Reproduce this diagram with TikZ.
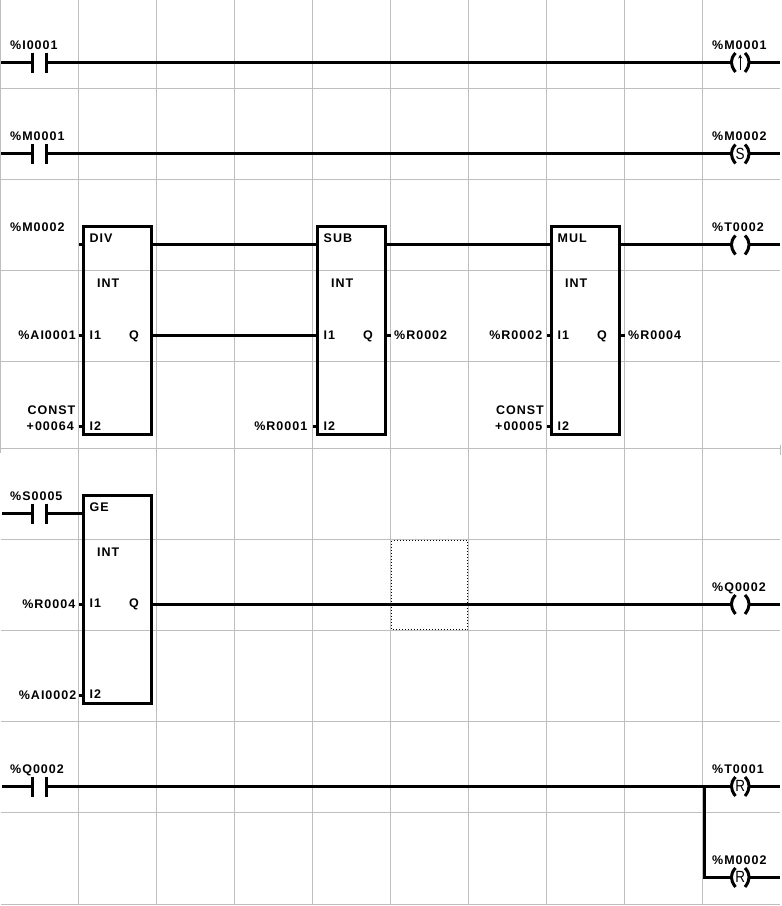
\documentclass[tikz,border=0pt]{standalone}
\usepackage{fontspec}
\usetikzlibrary{arrows.meta}
\setmainfont[LetterSpace=8]{Liberation Sans}
\newfontfamily\coilfont{Liberation Sans}
\definecolor{gridc}{HTML}{BEBEBE}
\tikzset{
  x=1pt,y=-1pt,
  gridline/.style={draw=gridc,line width=1pt},
  wire/.style={draw=black,line width=3pt},
  lbl/.style={inner sep=0pt,text height=9pt,text depth=0pt,font=\fontsize{12.5}{14}\selectfont\bfseries},
  inlbl/.style={lbl},
  fblock/.style={draw=black,line width=3pt,rectangle,inner sep=0pt,outer sep=0pt,minimum width=68.5pt,minimum height=208pt},
  sel/.style={draw=black,line width=1pt,dotted},
  uparrowline/.style={draw=black,line width=0.9pt,-{Stealth[length=4pt,width=4pt]}},
}
% contact: #1 name, #2 x left bar, #3 y
\newcommand{\contact}[3]{%
  \coordinate (#1l) at (#2,#3);
  \coordinate (#1r) at (#2+14,#3);
  \draw[wire] (#2,#3-9.5) -- (#2,#3+10.5);
  \draw[wire] (#2+14,#3-9.5) -- (#2+14,#3+10.5);
}
% coil: #1 name, #2 y, #3 inner text
\newcommand{\coil}[3]{%
  \coordinate (#1l) at (731,#2);
  \coordinate (#1r) at (749,#2);
  \coordinate (#1e) at (780,#2);
  \draw[wire] (735.5,#2-9) .. controls (730,#2-3) and (730,#2+3) .. (735.5,#2+10);
  \draw[wire] (745,#2-9) .. controls (750.5,#2-3) and (750.5,#2+3) .. (745,#2+10);
  \node[inner sep=0pt,font=\fontsize{13.5}{15}\selectfont\coilfont] (#1t) at (740.2,#2) {\scalebox{1}[1.2]{#3}};
  \draw[wire] (#1r) -- (#1e);
}
% block: #1 name, #2 left x, #3 top y, #4 op
\newcommand{\fb}[4]{%
  \node[fblock,anchor=north west] (#1) at (#2,#3) {};
  \coordinate (#1a) at (#2,#3+18);
  \coordinate (#1b) at (#2,#3+109);
  \coordinate (#1c) at (#2,#3+200);
  \coordinate (#1oa) at (#2+68.5,#3+18);
  \coordinate (#1ob) at (#2+68.5,#3+109);
  \node[inlbl,anchor=west] (#1op) at (#2+6.5,#3+11.5) {#4};
  \node[inlbl,anchor=west] (#1ty) at (#2+14,#3+56.5) {INT};
  \node[inlbl,anchor=west] (#1i1) at (#2+6.5,#3+108) {I1};
  \node[inlbl,anchor=west] (#1q) at (#2+46,#3+108) {Q};
  \node[inlbl,anchor=west] (#1i2) at (#2+6.5,#3+199) {I2};
  \draw[wire] (#1b) -- +(-4,0);
  \draw[wire] (#1c) -- +(-4,0);
  \draw[wire] (#1ob) -- +(5,0);
}
\begin{document}
\begin{tikzpicture}
\useasboundingbox (0,0) rectangle (782,906);
\fill[white] (0,0) rectangle (782,906);
% grid
\foreach \gx in {78.5,156.5,234.5,312.5,390.5,468.5,546.5,624.5,702.5}{
  \draw[gridline] (\gx,0) -- (\gx,904.5);
}
\foreach \gy in {88.5,179.5,270.5,361.5,448.5,539.5,630.5,721.5,812.5,904.5}{
  \draw[gridline] (1,\gy) -- (780,\gy);
}
\draw[gridline] (0.5,0) -- (0.5,453);
\draw[gridline] (780.5,445) -- (780.5,455);
% dotted selection box
\draw[sel] (391.5,540.5) rectangle (467.5,629.5);
% rung 1
\coordinate (r1s) at (1,62);
\contact{c1}{32}{62}
\coil{k1}{62}{}
\coordinate (a1b) at (740.2,70);
\coordinate (a1t) at (740.2,54.5);
\draw[uparrowline] (a1b) -- (a1t);
\draw[wire] (r1s) -- (c1l);
\draw[wire] (c1r) -- (k1l);
\node[lbl,anchor=west] (t1) at (10,45) {\%I0001};
\node[lbl,anchor=west] (t2) at (712,45) {\%M0001};
% rung 2
\coordinate (r2s) at (1,153.5);
\contact{c2}{32}{153.5}
\coil{k2}{153.5}{S}
\draw[wire] (r2s) -- (c2l);
\draw[wire] (c2r) -- (k2l);
\node[lbl,anchor=west] (t3) at (10,136) {\%M0001};
\node[lbl,anchor=west] (t4) at (712,136) {\%M0002};
% rung 3
\fb{div}{83}{226.5}{DIV}
\fb{sub}{317}{226.5}{SUB}
\fb{mul}{551}{226.5}{MUL}
\coil{k3}{244.5}{}
\draw[wire] (divoa) -- (suba);
\draw[wire] (suboa) -- (mula);
\draw[wire] (muloa) -- (k3l);
\draw[wire] (divob) -- (subb);
\draw[wire] (diva) -- +(-4,0);
\node[lbl,anchor=west] (t5) at (10,227) {\%M0002};
\node[lbl,anchor=west] (t6) at (712,227) {\%T0002};
\node[lbl,anchor=east] (t7) at (76,334.5) {\%AI0001};
\node[lbl,anchor=east] (t8) at (75.5,410) {CONST};
\node[lbl,anchor=east] (t9) at (74,425.5) {+00064};
\node[lbl,anchor=west] (t10) at (394,334.5) {\%R0002};
\node[lbl,anchor=east] (t11) at (307.5,425.5) {\%R0001};
\node[lbl,anchor=east] (t12) at (542.5,334.5) {\%R0002};
\node[lbl,anchor=east] (t13) at (544,410) {CONST};
\node[lbl,anchor=east] (t14) at (542.5,425.5) {+00005};
\node[lbl,anchor=west] (t15) at (628,334.5) {\%R0004};
% rung 4
\fb{ge}{83}{495}{GE}
\coordinate (r4s) at (2,513);
\contact{c4}{32}{513}
\draw[wire] (r4s) -- (c4l);
\draw[wire] (c4r) -- (gea);
\coil{k4}{604}{}
\draw[wire] (geob) -- (k4l);
\node[lbl,anchor=west] (t16) at (10,496) {\%S0005};
\node[lbl,anchor=west] (t17) at (712,587) {\%Q0002};
\node[lbl,anchor=east] (t18) at (75.5,603.5) {\%R0004};
\node[lbl,anchor=east] (t19) at (76.5,694.5) {\%AI0002};
% rung 5
\coordinate (r5s) at (2,786);
\contact{c5}{32}{786}
\coil{k5}{786}{R}
\coil{k6}{877}{R}
\draw[wire] (r5s) -- (c5l);
\draw[wire] (c5r) -- (k5l);
\coordinate (br) at (704.5,877);
\draw[wire,line cap=rect] (704.5,786) -- (br) -- (k6l);
\node[lbl,anchor=west] (t20) at (10,769) {\%Q0002};
\node[lbl,anchor=west] (t21) at (712,769) {\%T0001};
\node[lbl,anchor=west] (t22) at (712,860) {\%M0002};
\end{tikzpicture}
\end{document}
